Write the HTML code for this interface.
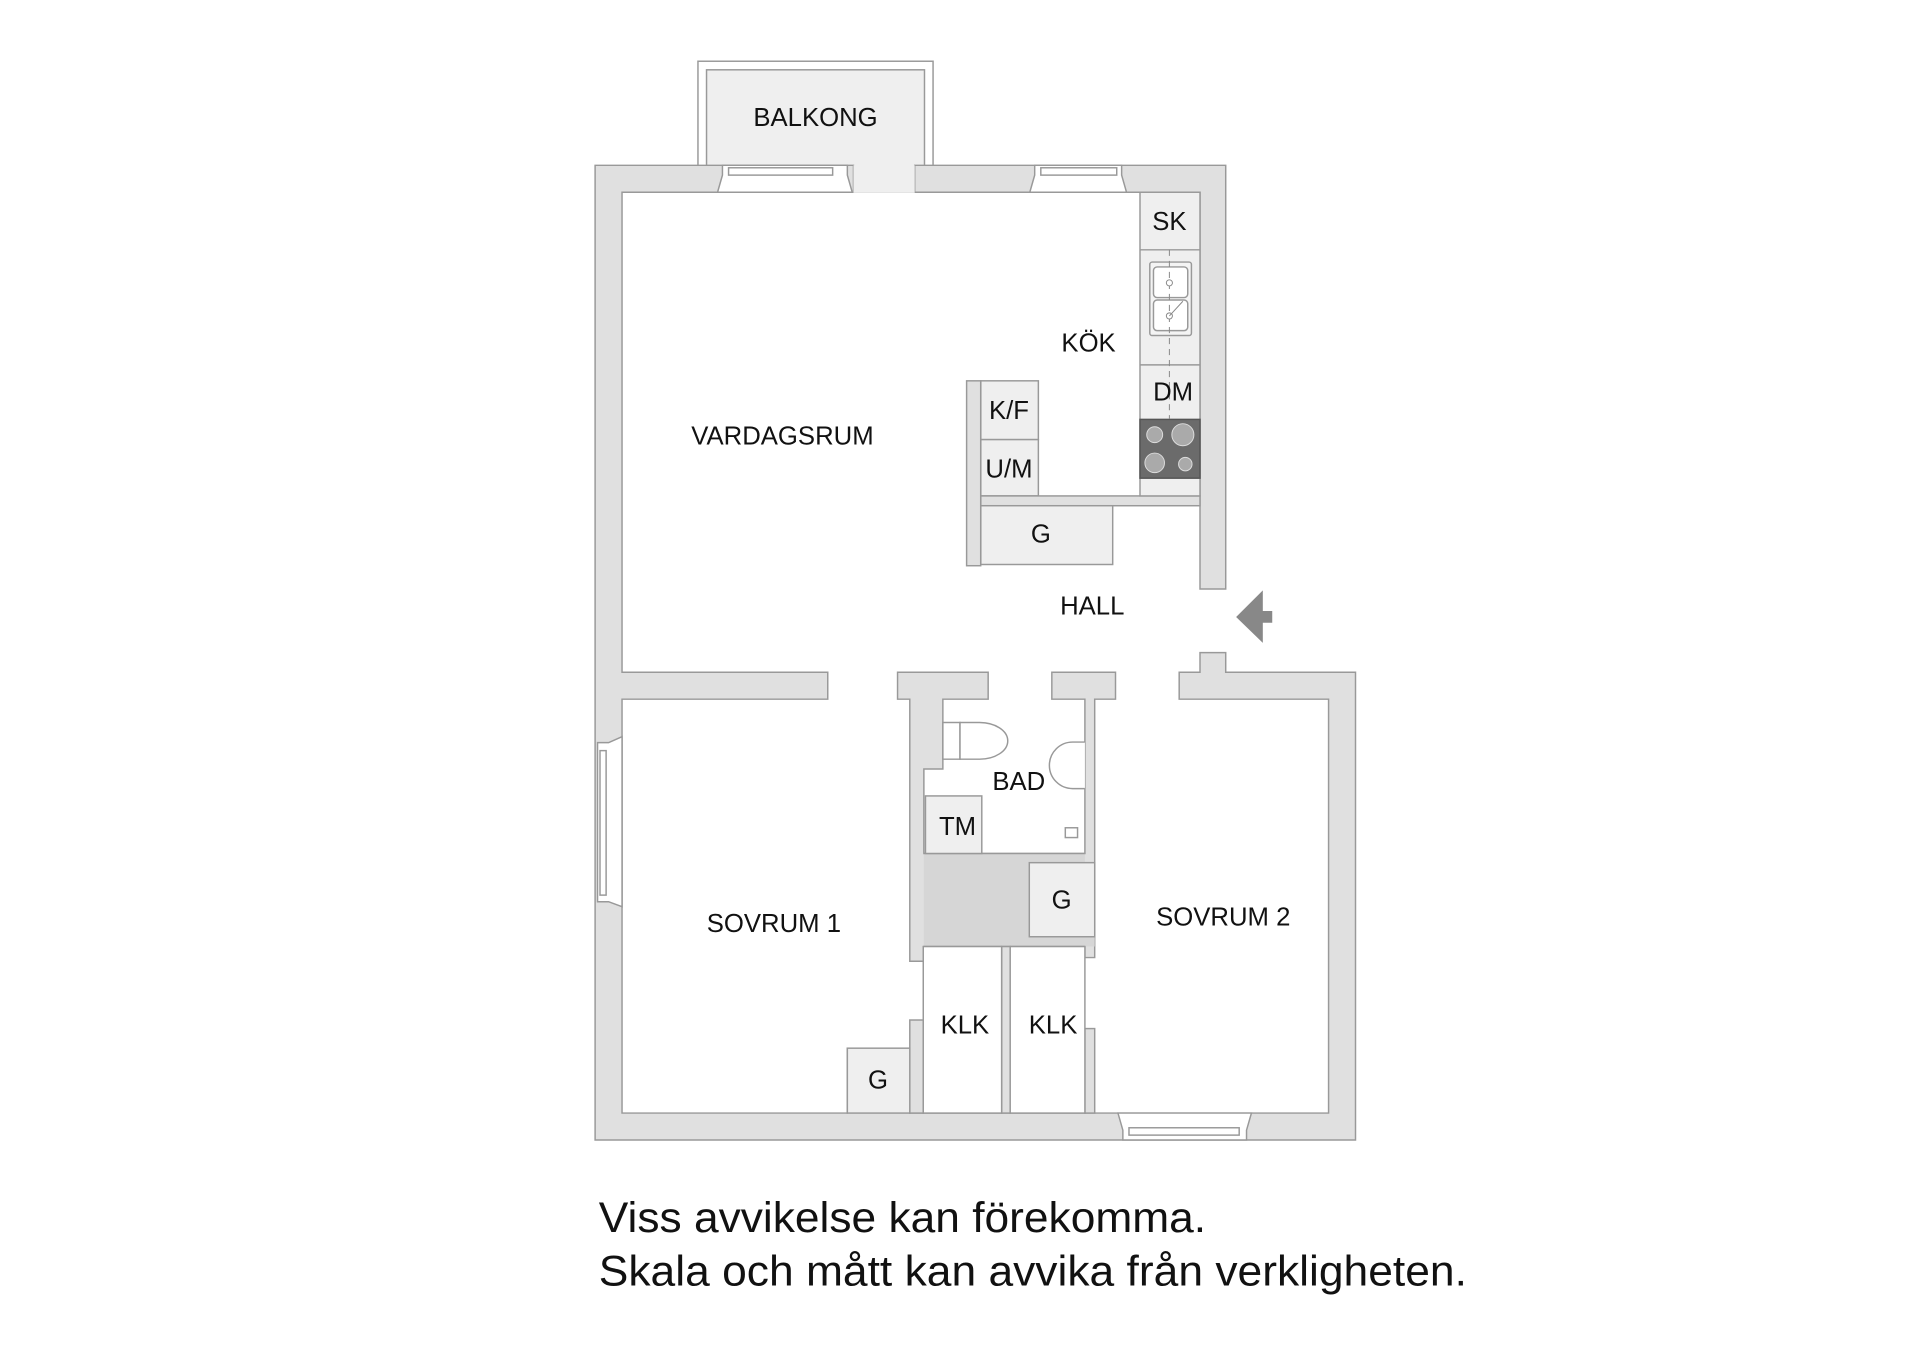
<!DOCTYPE html>
<html><head><meta charset="utf-8"><style>
html,body{margin:0;padding:0;background:#fff;}
svg{display:block;}
text{font-family:"Liberation Sans",Arial,sans-serif;fill:#111;}
</style></head><body>
<svg width="1920" height="1357" viewBox="0 0 1568 1108.2" xmlns="http://www.w3.org/2000/svg">
<g stroke="#999" stroke-width="1.2">
<!-- balcony -->
<rect x="570" y="50" width="192" height="86" fill="#fff"/>
<rect x="577" y="57" width="178" height="100" fill="#efefef"/>
<!-- outer walls -->
<path d="M486 135 H697 V157 H508 V549 H676 V571 H508 V909 H692 V856 H743 V909 H1085 V571 H963 V549 H980 V533 H1001 V549 H1107 V931 H486 Z" fill="#e0e0e0"/>
<path d="M747 135 H1001 V481 H980 V157 H747 Z" fill="#e0e0e0"/>
<rect x="697" y="135" width="50" height="22.5" fill="#efefef" stroke="none"/>
<!-- bath block -->
<path d="M733 549 H807 V571 H770 V628 H754.5 V697 H886 V571 H859 V549 H911 V571 H894 V782 H886 V773 H754.5 V785 H743 V571 H733 Z" fill="#e0e0e0"/>
<path d="M754.5 697 H886 V704.5 H840.6 V765 H894 V773 H754.5 Z" fill="#d6d6d6" stroke="none"/>
<rect x="840.6" y="704.5" width="53.4" height="60.5" fill="#efefef"/>
<line x1="754.5" y1="697" x2="886" y2="697"/>
<line x1="754.5" y1="773" x2="886" y2="773"/>
<!-- KLK walls -->
<rect x="818" y="773" width="7" height="136" fill="#e0e0e0"/>
<rect x="743" y="833" width="11" height="76" fill="#e0e0e0"/>
<rect x="886" y="840" width="8" height="69" fill="#e0e0e0"/>
<rect x="692" y="856" width="51" height="53" fill="#efefef"/>
<rect x="754" y="773" width="64" height="136" fill="#fff"/>
<rect x="825" y="773" width="61" height="136" fill="#fff"/>
<!-- bath fixtures -->
<rect x="755.8" y="650" width="46" height="47" fill="#efefef"/>
<path d="M770 590 H784 V620 H770 Z" fill="#fff"/>
<path d="M784 590 H800 A23 15 0 0 1 800 620 H784 Z" fill="#fff"/>
<path d="M886 606 H876 A19 19 0 0 0 876 644 H886" fill="#fff"/>
<rect x="870" y="676" width="10" height="8" fill="#fff"/>
<!-- kitchen -->
<rect x="789.4" y="311" width="11.5" height="151" fill="#e0e0e0"/>
<rect x="801" y="311" width="47" height="48" fill="#efefef"/>
<rect x="801" y="359" width="47" height="46" fill="#efefef"/>
<rect x="801" y="405" width="179" height="8" fill="#e0e0e0"/>
<rect x="801" y="413" width="107.7" height="48" fill="#efefef"/>
<rect x="931" y="157" width="49" height="248" fill="#efefef"/>
<line x1="931" y1="204" x2="980" y2="204"/>
<line x1="931" y1="298" x2="980" y2="298"/>
<rect x="931" y="342.5" width="49" height="48" fill="#6b6b6b" stroke="#555"/>
<rect x="939" y="214" width="34" height="60" rx="2" fill="#f4f4f4"/>
<rect x="942" y="218" width="28" height="25" rx="3" fill="#fff"/>
<rect x="942" y="245" width="28" height="25" rx="3" fill="#fff"/>
<!-- windows -->
<path d="M586 157 L590 143 V135 H692 V143 L696 157 Z" fill="#fff"/>
<rect x="595" y="137" width="85" height="6" fill="#fff"/>
<path d="M841 157 L845 143 V135 H916 V143 L920 157 Z" fill="#fff"/>
<rect x="850" y="137" width="62" height="6" fill="#fff"/>
<path d="M913 909 L917 923 V931 H1018 V923 L1022 909 Z" fill="#fff"/>
<rect x="922" y="921" width="90" height="6" fill="#fff"/>
<path d="M508 601.6 L497 606.5 H488 V736.4 H497 L508 740.5 Z" fill="#fff"/>
<rect x="490" y="613" width="5" height="118" fill="#fff"/>
</g>
<g stroke="#888" fill="#aaa" stroke-width="0.8">
<line x1="955" y1="204" x2="955" y2="342" stroke-dasharray="5,4" fill="none"/>
<circle cx="955" cy="231" r="2.5" fill="#fff"/>
<circle cx="955" cy="258" r="2.5" fill="#fff"/>
<line x1="955" y1="258" x2="966" y2="246"/>
<circle cx="943" cy="355" r="6.5" stroke="#ddd"/>
<circle cx="966" cy="355" r="9" stroke="#ddd"/>
<circle cx="943" cy="378" r="8" stroke="#ddd"/>
<circle cx="968" cy="379" r="5.5" stroke="#ddd"/>
</g>
<polygon points="1009.5,503.9 1031.3,482.1 1031.3,499 1039,499 1039,508.6 1031.3,508.6 1031.3,525" fill="#888"/>
<g font-size="21" text-anchor="middle">
<text x="666" y="103">BALKONG</text>
<text x="639" y="363">VARDAGSRUM</text>
<text x="889" y="287">KÖK</text>
<text x="955" y="188">SK</text>
<text x="958" y="327">DM</text>
<text x="824" y="342">K/F</text>
<text x="824" y="390">U/M</text>
<text x="850" y="443">G</text>
<text x="892" y="502">HALL</text>
<text x="832" y="645">BAD</text>
<text x="782" y="682">TM</text>
<text x="867" y="742">G</text>
<text x="632" y="761">SOVRUM 1</text>
<text x="999" y="756">SOVRUM 2</text>
<text x="788" y="844">KLK</text>
<text x="860" y="844">KLK</text>
<text x="717" y="889">G</text>
</g>
<g font-size="35">
<text x="489" y="1006" textLength="496" lengthAdjust="spacingAndGlyphs">Viss avvikelse kan förekomma.</text>
<text x="489" y="1050" textLength="709" lengthAdjust="spacingAndGlyphs">Skala och mått kan avvika från verkligheten.</text>
</g>
</svg>
</body></html>
